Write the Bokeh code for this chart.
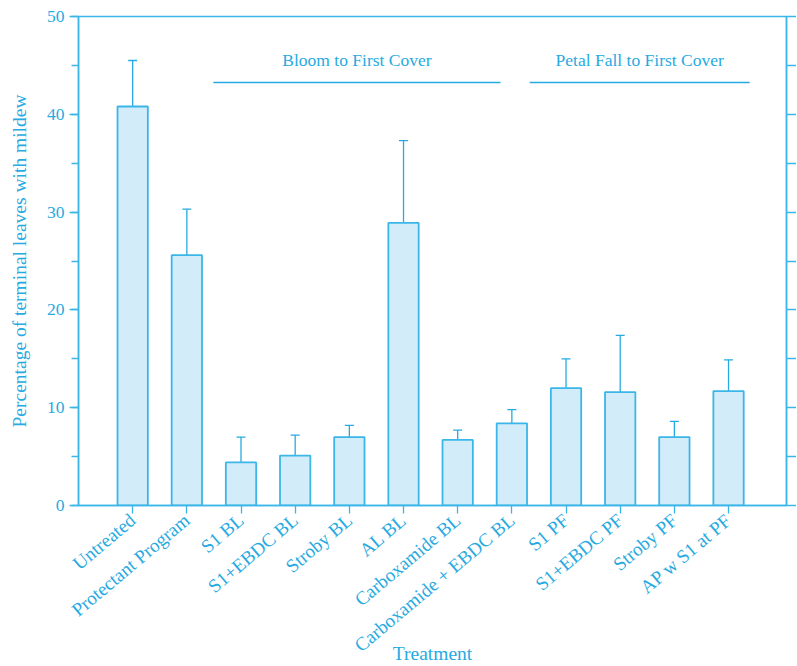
import math
from bokeh.plotting import figure
from bokeh.models import (ColumnDataSource, Range1d, LinearAxis, FixedTicker,
                          SingleIntervalTicker, Whisker, Label)
from bokeh.embed import file_html
from bokeh.resources import INLINE

# Treatments and observed mildew incidence (mean and upper error limit)
treatments = ["Untreated", "Protectant Program", "S1 BL", "S1+EBDC BL", "Stroby BL",
              "AL BL", "Carboxamide BL", "Carboxamide + EBDC BL", "S1 PF",
              "S1+EBDC PF", "Stroby PF", "AP w S1 at PF"]
mildew_pct = [40.8, 25.6, 4.4, 5.1, 7.0, 28.9, 6.7, 8.4, 12.0, 11.6, 7.0, 11.7]
upper_err = [45.5, 30.3, 7.0, 7.2, 8.2, 37.3, 7.7, 9.8, 15.0, 17.4, 8.6, 14.9]
groups = ["Bloom to First Cover", "Petal Fall to First Cover"]

BLUE = "#27aae1"
LINE = "#3bb6e8"
FILL = "#d3ecfa"
FONT = "Liberation Serif"

xs = list(range(len(treatments)))
src = ColumnDataSource(dict(x=xs, top=mildew_pct, upper=upper_err))

p = figure(frame_width=708, frame_height=489, min_border_left=78, min_border_top=16,
           min_border_bottom=150, min_border_right=0,
           x_range=Range1d(-1, 12.07), y_range=Range1d(0, 50),
           output_backend="svg", toolbar_location=None)
p.xgrid.visible = False
p.ygrid.visible = False
p.outline_line_color = LINE
p.outline_line_width = 1.5
p.background_fill_color = "white"
p.border_fill_color = "white"

# Error bars (upper limb only)
wh = Whisker(source=src, base="x", lower="top", upper="upper",
             line_color=BLUE, line_width=1.3)
wh.lower_head = None
wh.upper_head.size = 9
wh.upper_head.line_color = BLUE
wh.upper_head.line_width = 1.3
p.add_layout(wh)

p.vbar(x="x", top="top", width=0.56, bottom=0, source=src,
       fill_color=FILL, line_color=LINE, line_width=1.8)

# Left axis
ya = p.yaxis[0]
ya.ticker = SingleIntervalTicker(interval=10, num_minor_ticks=2)
ya.axis_label = "Percentage of terminal leaves with mildew"
ya.axis_line_color = LINE
ya.axis_line_width = 1.5
ya.major_tick_line_color = LINE
ya.minor_tick_line_color = LINE
ya.major_tick_line_width = 1.3
ya.minor_tick_line_width = 1.3
ya.major_tick_out = 9
ya.major_tick_in = 0
ya.minor_tick_out = 7
ya.minor_tick_in = 0
ya.major_label_text_color = BLUE
ya.major_label_text_font = FONT
ya.major_label_text_font_size = "17.5px"
ya.major_label_standoff = 5
ya.axis_label_text_color = BLUE
ya.axis_label_text_font = FONT
ya.axis_label_text_font_size = "19.5px"
ya.axis_label_text_font_style = "normal"
ya.axis_label_standoff = 14

# Right axis: ticks only
ra = LinearAxis(ticker=SingleIntervalTicker(interval=5, num_minor_ticks=0))
ra.axis_line_color = LINE
ra.axis_line_width = 1.5
ra.major_tick_line_color = LINE
ra.major_tick_line_width = 1.3
ra.major_tick_out = 10
ra.major_tick_in = 0
ra.minor_tick_line_color = None
ra.major_label_text_font_size = "0px"
ra.major_label_standoff = 0
p.add_layout(ra, "right")

# Bottom axis with treatment names
xa = p.xaxis[0]
xa.ticker = FixedTicker(ticks=xs)
xa.major_label_overrides = {i: t for i, t in enumerate(treatments)}
xa.major_label_orientation = 0.70
xa.axis_line_color = LINE
xa.axis_line_width = 1.5
xa.major_tick_line_color = LINE
xa.major_tick_line_width = 1.3
xa.major_tick_out = 8
xa.major_tick_in = 0
xa.minor_tick_line_color = None
xa.major_label_text_color = BLUE
xa.major_label_text_font = FONT
xa.major_label_text_font_size = "19px"
xa.major_label_standoff = 4
xa.axis_label = "Treatment"
xa.axis_label_text_color = BLUE
xa.axis_label_text_font = FONT
xa.axis_label_text_font_size = "19.5px"
xa.axis_label_text_font_style = "normal"
xa.axis_label_standoff = -24

# Group annotations with underline
for name, x0, x1 in [(groups[0], 1.49, 6.79), (groups[1], 7.33, 11.39)]:
    p.segment(x0=[x0], y0=[43.25], x1=[x1], y1=[43.25], line_color=BLUE, line_width=1.3)
    p.add_layout(Label(x=(x0 + x1) / 2, y=45.6, text=name, text_align="center",
                       text_baseline="middle", text_color=BLUE, text_font=FONT,
                       text_font_size="17.5px"))

open("out.html", "w").write(file_html(p, INLINE))
